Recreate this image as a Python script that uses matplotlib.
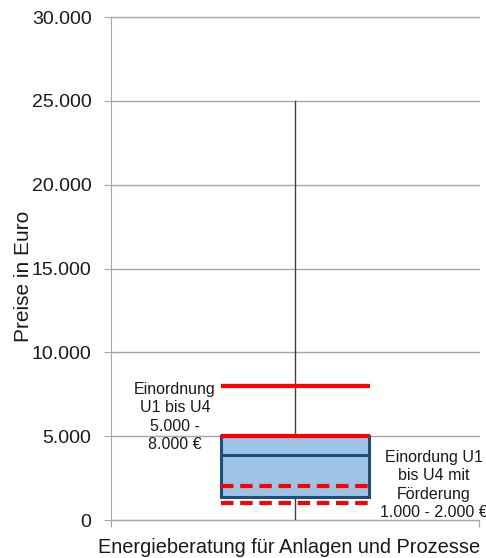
import matplotlib.pyplot as plt
from matplotlib.ticker import FuncFormatter
from matplotlib.patches import Rectangle

plt.rcParams['font.family'] = ['Liberation Sans', 'DejaVu Sans']

# Preisspanne Energieberatung (Box-Whisker)
category = 'Energieberatung für Anlagen und Prozesse'
whisker_low = 0
q1 = 1400
median = 3900
q3 = 5000
whisker_high = 25000

# Einordnung U1-U4 ohne / mit Förderung
range_plain = [5000, 8000]
range_funded = [1000, 2000]

yticks = [0, 5000, 10000, 15000, 20000, 25000, 30000]

fig = plt.figure(figsize=(4.86, 5.58), dpi=100)
ax = fig.add_axes([0.2284, 0.0681, 0.7572, 0.9014])

ax.set_xlim(0.5, 1.5)
ax.set_ylim(0, 30000)

grid_col = '#A6A6A6'
txt_col = '#1a1a1a'
for y in yticks:
    ax.axhline(y, color=grid_col, lw=1, zorder=0, clip_on=False)

# whisker
ax.plot([1, 1], [whisker_low, whisker_high], color='#404040', lw=1, zorder=1)

# box
bw = 0.4
ax.add_patch(Rectangle((1 - bw / 2, q1), bw, q3 - q1, facecolor='#9DC3E6',
                       edgecolor='#1F4E79', lw=2.2, zorder=2))
ax.plot([1 - bw / 2, 1 + bw / 2], [median, median], color='#1F4E79', lw=2.2, zorder=3)

# red reference lines
x0, x1 = 1 - bw / 2, 1 + bw / 2 + 0.005
for v in range_plain:
    ax.plot([x0, x1], [v, v], color='#FF0000', lw=3, solid_capstyle='butt', zorder=4)
for v in range_funded:
    ax.plot([x0, x1], [v, v], color='#FF0000', lw=3, ls=(0, (3, 1.6)), zorder=4)

ax.text(0.674, 6140, 'Einordnung\nU1 bis U4\n5.000 -\n8.000 €', ha='center', va='center',
        fontsize=11.5, color=txt_col, linespacing=1.3)
ax.text(1.378, 2090, 'Einordung U1\nbis U4 mit\nFörderung\n1.000 - 2.000 €', ha='center',
        va='center', fontsize=11.5, color=txt_col, linespacing=1.3, clip_on=False)

ax.set_yticks(yticks)
ax.yaxis.set_major_formatter(FuncFormatter(lambda v, p: f'{int(v):,}'.replace(',', '.')))
ax.tick_params(axis='y', length=5, color=grid_col, labelsize=14, labelcolor=txt_col, pad=9)
ax.set_xticks([0.5, 1.5])
ax.set_xticklabels(['', ''])
ax.tick_params(axis='x', length=5, color=grid_col, direction='out')
ax.text(0.985, -1073, category, ha='center', va='top', fontsize=14.4, color=txt_col,
        clip_on=False)

fig.text(23.5 / 486, 1 - 276 / 558, 'Preise in Euro', rotation=90, ha='center',
         va='center', fontsize=15, color=txt_col)

for s in ['top', 'right']:
    ax.spines[s].set_visible(False)
for s in ['left', 'bottom']:
    ax.spines[s].set_color(grid_col)

fig.savefig('out.png', dpi=100)
